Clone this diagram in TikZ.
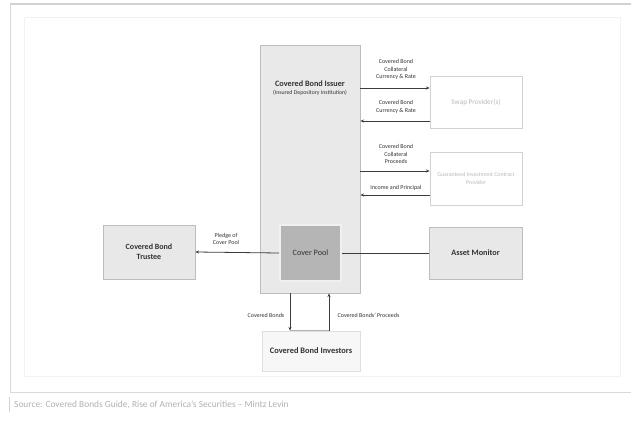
\documentclass[tikz,border=0pt]{standalone}
\usepackage{fontspec}
\setmainfont{Carlito}
\usetikzlibrary{arrows.meta}
\definecolor{txt}{HTML}{333333}
\definecolor{ln}{HTML}{3C3C3C}
\definecolor{bord}{HTML}{BDBDBD}
\tikzset{
  boxa/.style={draw=bord, line width=0.8pt, fill=#1, inner sep=1pt, align=center, text=txt},
  boxa/.default={gray!14},
  arr/.style={draw=ln, line width=0.8pt, -{Stealth[length=3.6pt,width=3pt]}},
  plain/.style={draw=ln, line width=0.8pt},
  lab/.style={font=\fontsize{6}{7.6}\selectfont, text=txt, align=center, inner sep=0.5pt},
}
\begin{document}
\begin{tikzpicture}[x=1pt,y=-1pt]
\useasboundingbox (0,0) rectangle (633,423);
\fill[white] (0,0) rectangle (633,423);
% frames
\draw[draw=gray!35, line width=1.2pt] (10,4) -- (631,4);
\draw[draw=gray!30, line width=0.8pt] (10,4) -- (10,392) -- (631,392);
\draw[draw=gray!10, line width=0.6pt] (24,17) rectangle (620,376);
% issuer
\node[boxa={gray!17}, minimum width=100pt, minimum height=248pt] (issuer) at (310,169) {};
\node[lab, font=\fontsize{8.2}{9}\selectfont\bfseries] (issuertxt) at (310,84) {Covered Bond Issuer};
\node[lab, font=\fontsize{5.8}{6.5}\selectfont] (issuersub) at (310,93) {(Insured Depository Institution)};
% cover pool
\node[boxa={gray!58}, draw=gray!12, line width=1.6pt, minimum width=61pt, minimum height=56pt, font=\fontsize{8.2}{9}\selectfont] (pool) at (310.5,253) {Cover Pool};
% trustee
\node[boxa={gray!18}, minimum width=92pt, minimum height=54pt, font=\fontsize{8}{9.6}\selectfont\bfseries] (trustee) at (149,252) {Covered Bond\\Trustee};
% asset monitor
\node[boxa={gray!18}, minimum width=93pt, minimum height=52pt, font=\fontsize{8.2}{9}\selectfont\bfseries] (monitor) at (475.5,253) {Asset Monitor};
% investors
\node[boxa={gray!6}, draw=gray!25, minimum width=98pt, minimum height=40pt, font=\fontsize{8.4}{9.5}\selectfont\bfseries] (investors) at (311,351) {Covered Bond Investors};
% right boxes
\node[boxa={white}, draw=gray!35, minimum width=92pt, minimum height=52pt, text=gray!55, font=\fontsize{7.2}{8}\selectfont] (swap) at (476,102) {Swap Provider(s)};
\node[boxa={white}, draw=gray!35, minimum width=92pt, minimum height=53pt, text=gray!55, font=\fontsize{5.8}{8}\selectfont] (gic) at (476,179) {Guaranteed Investment Contract\\Provider};
% coordinates for right arrows
\coordinate (ya) at (0,88);
\coordinate (yb) at (0,121);
\coordinate (yc) at (0,171);
\coordinate (yd) at (0,195);
\draw[arr] (issuer.east |- ya) -- (swap.west |- ya);
\draw[arr] (swap.west |- yb) -- (issuer.east |- yb);
\draw[arr] (issuer.east |- yc) -- (gic.west |- yc);
\draw[arr] (gic.west |- yd) -- (issuer.east |- yd);
\node[lab] (la) at (396,69.5) {Covered Bond\\Collateral\\Currency \& Rate};
\node[lab] (lb) at (396,107) {Covered Bond\\Currency \& Rate};
\node[lab] (lc) at (396,154) {Covered Bond\\Collateral\\Proceeds};
\node[lab] (ld) at (396,187.5) {Income and Principal};
% trustee and monitor lines
\draw[arr] (pool.west) -- (trustee.east);
\draw[plain] (pool.east) -- (monitor.west);
\node[lab] (lpl) at (226,239) {Pledge of\\Cover Pool};
% bottom arrows
\coordinate (xl) at (290,0);
\coordinate (xr) at (329,0);
\draw[arr] (issuer.south -| xl) -- (investors.north -| xl);
\draw[arr] (investors.north -| xr) -- (issuer.south -| xr);
\draw[plain, draw=gray!60] (investors.north -| xl) -- (investors.north -| xr);
\node[lab, anchor=east] (lcb) at (285,315) {Covered Bonds};
\node[lab, anchor=west] (lcp) at (337,315) {Covered Bonds' Proceeds};
% caption
\draw[draw=gray!35, line width=0.6pt] (9,397) -- (9,412);
\node[anchor=west, text=gray!60, font=\fontsize{9.4}{11}\selectfont, inner sep=0pt] (cap) at (14,405) {Source: Covered Bonds Guide, Rise of America's Securities -- Mintz Levin};
\end{tikzpicture}
\end{document}
